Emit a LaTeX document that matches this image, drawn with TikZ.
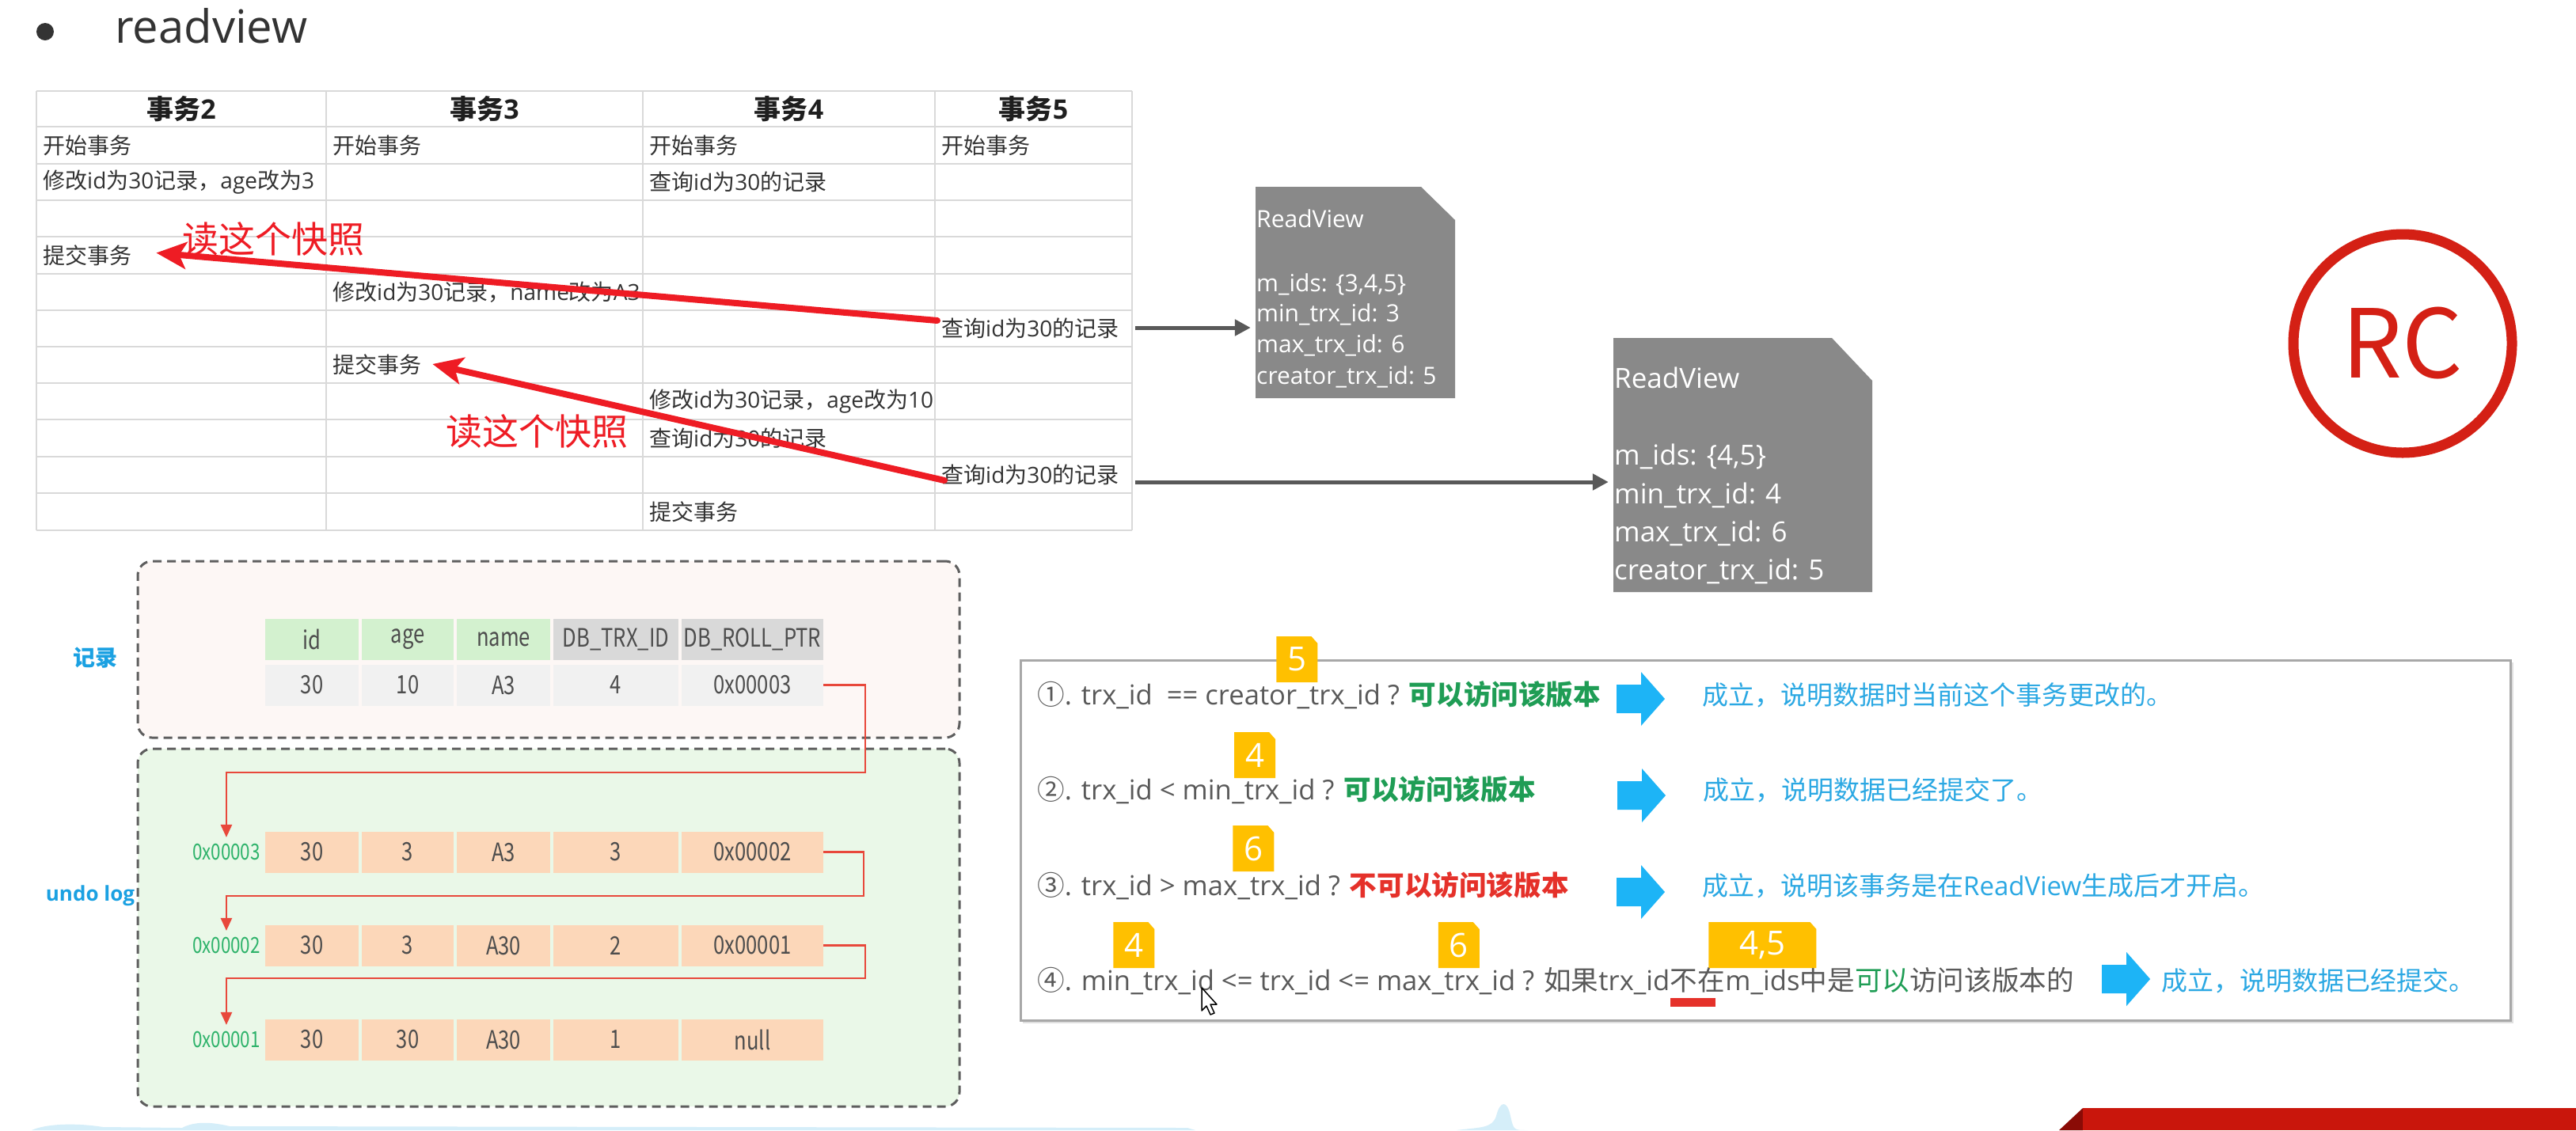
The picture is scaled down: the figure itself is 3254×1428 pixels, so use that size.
\documentclass[tikz,border=0pt]{standalone}
\usepackage{fontspec}
\setmainfont{Open Sans}
\newfontfamily\cjkfont{Noto Sans CJK SC}
\newfontfamily\condfont[FakeStretch=0.8]{Noto Sans CJK SC}
\usetikzlibrary{arrows.meta,calc}
\XeTeXinterchartokenstate=1
\newXeTeXintercharclass\CJKcls
\newcount\cjkc
\newcommand\setcjkrange[2]{\cjkc=#1\relax
  \loop\XeTeXcharclass\cjkc=\CJKcls\relax
  \ifnum\cjkc<#2\relax\advance\cjkc by 1\relax\repeat}
\setcjkrange{"2460}{"24FF}
\setcjkrange{"3000}{"303F}
\setcjkrange{"4E00}{"9FFF}
\setcjkrange{"FF00}{"FFEF}
\XeTeXinterchartoks 0 \CJKcls = {\begingroup\cjkfont}
\XeTeXinterchartoks 4095 \CJKcls = {\begingroup\cjkfont}
\XeTeXinterchartoks \CJKcls 0 = {\endgroup}
\XeTeXinterchartoks \CJKcls 4095 = {\endgroup}
\newcommand\myfs[1]{\fontsize{#1}{#1}\selectfont}
\definecolor{txtgray}{HTML}{595959}
\definecolor{celltxt}{HTML}{333333}
\definecolor{celltxtb}{HTML}{4D4D4D}
\definecolor{hdrtxt}{HTML}{1F1F1F}
\definecolor{gridgray}{HTML}{D9D9D9}
\definecolor{rvgray}{HTML}{898989}
\definecolor{arrgray}{HTML}{595959}
\definecolor{snapred}{HTML}{EE1C24}
\definecolor{rcred}{HTML}{D42015}
\definecolor{recfill}{HTML}{FDF7F5}
\definecolor{undofill}{HTML}{EAF8E8}
\definecolor{hdrgreen}{HTML}{D3F1CF}
\definecolor{hdrgray}{HTML}{D9D9D9}
\definecolor{datagray}{HTML}{F1F1F1}
\definecolor{peach}{HTML}{FCD7B9}
\definecolor{addrgreen}{HTML}{2FB36B}
\definecolor{labelblue}{HTML}{1BA1E2}
\definecolor{okgreen}{HTML}{1F9D55}
\definecolor{nored}{HTML}{E5312A}
\definecolor{arrowblue}{HTML}{1DB4F6}
\definecolor{msgblue}{HTML}{2BA8E3}
\definecolor{badgefill}{HTML}{FFC000}
\definecolor{linkred}{HTML}{E8483B}
\definecolor{dashgray}{HTML}{5E5E5E}
\definecolor{skyblue}{HTML}{D5EEF9}
\definecolor{bannerred}{HTML}{C9160C}
\definecolor{bannerdark}{HTML}{8A0B06}
\definecolor{titlegray}{HTML}{333333}
\definecolor{boxgray}{HTML}{A8A8A8}
\tikzset{
  gridline/.style={draw=gridgray, line width=2pt},
  hdr/.style={inner sep=0pt, font=\myfs{34}\bfseries, text=hdrtxt},
  cell/.style={anchor=west, inner sep=0pt, font=\myfs{28}, text=celltxt},
  snaparrow/.style={draw=snapred, line width=8pt, line cap=round, -{Stealth[length=38pt,width=34pt,inset=9pt]}},
  snaplabel/.style={inner sep=0pt, font=\myfs{46}, text=snapred},
  grayarrow/.style={draw=arrgray, line width=5pt, -{Triangle[length=20pt,width=20pt]}, shorten >=6pt},
  rvonel/.style={anchor=west, inner sep=0pt, text=white, font=\myfs{30}, text height=21pt, text depth=6pt},
  rvtwol/.style={anchor=west, inner sep=0pt, text=white, font=\myfs{35}, text height=25pt, text depth=7pt},
  dashbox/.style={draw=dashgray, line width=3pt, dash pattern=on 11pt off 7pt, rounded corners=18pt, inner sep=0pt},
  lbl/.style={inner sep=0pt, font=\bfseries, text=labelblue},
  tcell/.style={minimum height=52pt, inner sep=0pt, font=\condfont\myfs{32}, text=celltxtb},
  addr/.style={anchor=east, inner sep=2pt, font=\condfont\myfs{28}, text=addrgreen},
  link/.style={draw=linkred, line width=2.5pt, -{Triangle[length=16pt,width=14pt]}},
  cond/.style={anchor=base west, inner sep=0pt, font=\myfs{34.6}, text=txtgray},
  msg/.style={anchor=base west, inner sep=0pt, font=\myfs{33}, text=msgblue},
  badgetxt/.style={inner sep=0pt, font=\myfs{42}, text=white},
  barrow/.pic={\fill[arrowblue] (0,-18) -- (31,-18) -- (31,-34) -- (61,0) -- (31,34) -- (31,18) -- (0,18) -- cycle;}
}
\newcommand\recrow[9]{%
  \node[tcell, fill=#3, minimum width=118pt] (#11) at (394,#2) {#5};
  \node[tcell, fill=#3, minimum width=116pt] (#12) at (515,#2) {#6};
  \node[tcell, fill=#3, minimum width=118pt] (#13) at (636,#2) {#7};
  \node[tcell, fill=#4, minimum width=158pt] (#14) at (778,#2) {#8};
  \node[tcell, fill=#4, minimum width=179pt] (#15) at (950.5,#2) {#9};
}
\newcommand\mybadge[6]{%
  \coordinate (#1y) at (0,#4);
  \coordinate[xshift=#3pt] (#1c) at (#2 |- #1y);
  \fill[badgefill] ($(#1c)+(-#5,-29)$) -- ($(#1c)+(#5-8,-29)$) -- ($(#1c)+(#5,-20)$) -- ($(#1c)+(#5,29)$) -- ($(#1c)+(-#5,29)$) -- cycle;
  \node[badgetxt] (#1) at (#1c) {#6};
}
\begin{document}
\begin{tikzpicture}[x=1pt,y=-1pt]
\useasboundingbox[fill=white] (0,0) rectangle (3254,1428);
% title
\node[circle, fill=titlegray, minimum size=22pt, inner sep=0pt] (bullet) at (57,40) {};
\node[anchor=base west, inner sep=0pt, font=\myfs{58}, text=titlegray] (title) at (145,54) {readview};
% transaction table
\foreach \yy in {115,160,207,253,299,346,392,438,484,530,577,623,670} \draw[gridline] (46,\yy) -- (1430,\yy);
\foreach \xx in {46,412,812,1181,1430} \draw[gridline] (\xx,115) -- (\xx,670);
\node[minimum width=1384pt, minimum height=555pt, inner sep=0pt] (tbl) at (738,392.5) {};
\node[hdr] (h2) at (229,137.5) {事务2};
\node[hdr] (h3) at (612,137.5) {事务3};
\node[hdr] (h4) at (996.5,137.5) {事务4};
\node[hdr] (h5) at (1305.5,137.5) {事务5};
\node[cell] (c21) at (54,183.5) {开始事务};
\node[cell] (c22) at (420,183.5) {开始事务};
\node[cell] (c23) at (820,183.5) {开始事务};
\node[cell] (c24) at (1189,183.5) {开始事务};
\node[cell] (c31) at (54,230) {修改id为30记录，age改为3};
\node[cell] (c33) at (820,230) {查询id为30的记录};
\node[cell] (c51) at (54,322.5) {提交事务};
\node[cell] (c62) at (420,369) {修改id为30记录，name改为A3};
\node[cell] (c74) at (1189,415) {查询id为30的记录};
\node[cell] (c82) at (420,461) {提交事务};
\node[cell] (c93) at (820,507) {修改id为30记录，age改为10};
\node[cell] (c103) at (820,553.5) {查询id为30的记录};
\node[cell] (c114) at (1189,600) {查询id为30的记录};
\node[cell] (c123) at (820,646.5) {提交事务};
% snapshot arrows
\draw[snaparrow] ($(c74.west)+(-5,-10)$) -- ($(c51.east)+(31,-3)$);
\draw[snaparrow] ($(c114.west)+(4,7)$) -- ($(c82.east)+(14,-1)$);
\node[snaplabel] (snap1) at (345,302) {读这个快照};
\node[snaplabel] (snap2) at (678,545) {读这个快照};
% readviews
\fill[rvgray] (1586,236) -- (1795,236) -- (1838,278) -- (1838,503) -- (1586,503) -- cycle;
\node[minimum width=252pt, minimum height=267pt, inner sep=0pt] (rv1) at (1712,369.5) {};
\node[rvonel] (rv1a) at (1587,280) {ReadView};
\node[rvonel] (rv1b) at (1587,361) {m\_ids: \{3,4,5\}};
\node[rvonel] (rv1c) at (1587,399) {min\_trx\_id: 3};
\node[rvonel] (rv1d) at (1587,438) {max\_trx\_id: 6};
\node[rvonel] (rv1e) at (1587,478) {creator\_trx\_id: 5};
\fill[rvgray] (2038,427) -- (2314,427) -- (2365,481) -- (2365,748) -- (2038,748) -- cycle;
\node[minimum width=327pt, minimum height=321pt, inner sep=0pt] (rv2) at (2201.5,587.5) {};
\node[rvtwol] (rv2a) at (2039,481) {ReadView};
\node[rvtwol] (rv2b) at (2039,578) {m\_ids: \{4,5\}};
\node[rvtwol] (rv2c) at (2039,627) {min\_trx\_id: 4};
\node[rvtwol] (rv2d) at (2039,675) {max\_trx\_id: 6};
\node[rvtwol] (rv2e) at (2039,723) {creator\_trx\_id: 5};
\coordinate (g1) at (1434,414);
\coordinate (g2) at (1434,609);
\draw[grayarrow] (g1) -- (rv1.west |- g1);
\draw[grayarrow] (g2) -- (rv2.west |- g2);
% RC
\node[circle, draw=rcred, line width=13pt, minimum size=276pt, inner sep=0pt] (rcring) at (3035,434) {};
\node[font=\cjkfont\myfs{120}, text=rcred, inner sep=0pt] (rc) at (rcring.center) {RC};
% record / undo log
\node[dashbox, fill=recfill, minimum width=1038pt, minimum height=223pt] (recbox) at (693,820.5) {};
\node[dashbox, fill=undofill, minimum width=1038pt, minimum height=452pt] (undobox) at (693,1172) {};
\node[lbl, font=\myfs{28}\bfseries] (reclbl) at (120,831) {记录};
\node[lbl, font=\myfs{26}\bfseries] (undolbl) at (114,1132) {undo log};
\recrow{rh}{808}{hdrgreen}{hdrgray}{id}{age}{name}{DB\_TRX\_ID}{DB\_ROLL\_PTR}
\recrow{rd}{865.5}{datagray}{datagray}{30}{10}{A3}{4}{0x00003}
\recrow{ua}{1076.5}{peach}{peach}{30}{3}{A3}{3}{0x00002}
\recrow{ub}{1194.5}{peach}{peach}{30}{3}{A30}{2}{0x00001}
\recrow{uc}{1313.5}{peach}{peach}{30}{30}{A30}{1}{null}
\node[addr] (a1) at (331,1076.5) {0x00003};
\node[addr] (a2) at (331,1194.5) {0x00002};
\node[addr] (a3) at (331,1313.5) {0x00001};
\draw[link] (rd5.east) -| (1093,976) -| ([yshift=6pt]a1.north);
\draw[link] (ua5.east) -| (1091,1132) -| ([yshift=6pt]a2.north);
\draw[link] (ub5.east) -| (1093,1236) -| ([yshift=6pt]a3.north);
% conditions
\fill[gray!25] (1292,837) rectangle (3175,1293);
\node[draw=boxgray, line width=3pt, fill=white, minimum width=1882pt, minimum height=455pt, inner sep=0pt] (cbox) at (2230,1061.5) {};
\node[cond] (q1a) at (1310,890) {①. trx\_id\ \ == creator};
\node[cond] (q1b) at (q1a.base east) {\_trx\_id ? {\bfseries\color{okgreen}可以访问该版本}};
\node[cond] (q2a) at (1310,1010) {②. trx\_id < min};
\node[cond] (q2b) at (q2a.base east) {\_trx\_id ? {\bfseries\color{okgreen}可以访问该版本}};
\node[cond] (q3a) at (1310,1131) {③. trx\_id > max};
\node[cond] (q3b) at (q3a.base east) {\_trx\_id ? {\bfseries\color{nored}不可以访问该版本}};
\node[cond] (q4a) at (1310,1251) {④. min};
\node[cond] (q4b) at (q4a.base east) {\_trx\_id <= trx\_id <= max};
\node[cond] (q4c) at (q4b.base east) {\_trx\_id ? 如果trx\_id};
\node[cond] (q4d) at (q4c.base east) {不在};
\node[cond] (q4e) at (q4d.base east) {m\_ids};
\node[cond] (q4f) at (q4e.base east) {中是{\color{okgreen}可以}访问该版本的};
\fill[nored] ($(q4d.base west)+(0,10)$) rectangle ($(q4d.base west)+(57,21)$);
\mybadge{b1}{q1b.west}{0}{833}{26}{5}
\mybadge{b2}{q2b.west}{29}{954}{26}{4}
\mybadge{b3}{q3b.west}{20}{1072}{26}{6}
\mybadge{b4}{q4b.west}{4}{1194}{26}{4}
\mybadge{b5}{q4c.west}{34}{1194}{26}{6}
\mybadge{b6}{q4e.center}{0}{1194}{68}{4,5}
\pic at (2042,883) {barrow};
\pic at (2043,1005) {barrow};
\pic at (2042,1127) {barrow};
\pic at ($(q4f.base east)+(35,-14)$) {barrow};
\node[msg] (m1) at (2150,890) {成立，说明数据时当前这个事务更改的。};
\node[msg] (m2) at (2151,1010) {成立，说明数据已经提交了。};
\node[msg] (m3) at (2150,1131) {成立，说明该事务是在ReadView生成后才开启。};
\node[msg] (m4) at ($(q4f.base east)+(110,0)$) {成立，说明数据已经提交。};
% cursor
\draw[black, line width=1.5pt, fill=white, line join=round] (1518,1248) -- (1518,1277) -- (1524,1271) -- (1529,1282) -- (1534,1280) -- (1529,1269) -- (1537,1269) -- cycle;
% bottom decorations
\fill[skyblue] (40,1428) .. controls (60,1419) and (100,1419) .. (130,1424) -- (230,1425) .. controls (245,1417) and (265,1417) .. (290,1423) -- (1500,1425) -- (1510,1428) -- cycle;
\fill[skyblue] (1840,1428) .. controls (1870,1424) and (1885,1426) .. (1890,1410) .. controls (1895,1390) and (1904,1390) .. (1908,1410) .. controls (1912,1428) .. (1930,1428) -- cycle;
\fill[bannerdark] (2601,1428) -- (2631,1400) -- (2631,1428) -- cycle;
\fill[bannerred] (2631,1400) rectangle (3254,1428);
\end{tikzpicture}
\end{document}
